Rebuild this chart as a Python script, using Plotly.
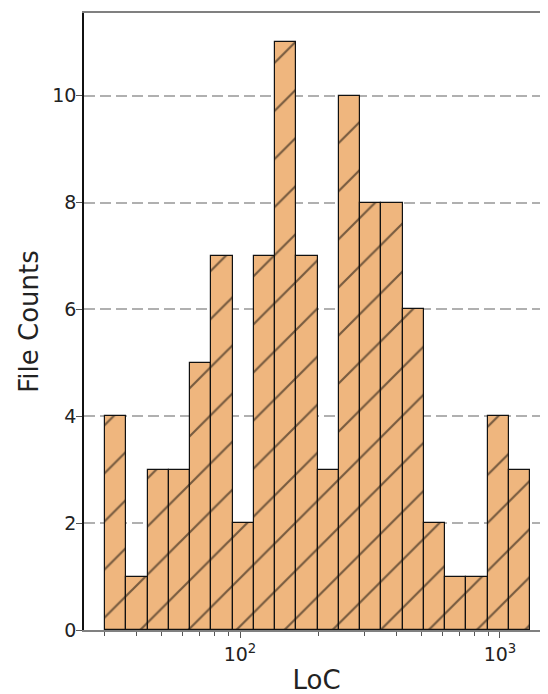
import numpy as np
import plotly.graph_objects as go

# Histogram counts per log-spaced bin
counts = [4, 1, 3, 3, 5, 7, 2, 7, 11, 7, 3, 10, 8, 8, 6, 2, 1, 1, 4, 3]
loc_min = 30.26   # left edge of first bin (LoC)
loc_max = 1305.0  # right edge of last bin (LoC)

y_ticks = [0, 2, 4, 6, 8, 10]
x_major_vals = [100, 1000]
x_major_text = ["10<sup>2</sup>", "10<sup>3</sup>"]
x_minor_vals = [30, 40, 50, 60, 70, 80, 90, 200, 300, 400, 500, 600, 700, 800, 900]

edges = np.logspace(np.log10(loc_min), np.log10(loc_max), len(counts) + 1)
le = np.log10(edges)
centers = (le[:-1] + le[1:]) / 2
widths = le[1:] - le[:-1]

fill = "#efb67e"
font = "DejaVu Sans"

fig = go.Figure(go.Bar(
    x=centers, y=counts, width=widths,
    marker=dict(color=fill,
                line=dict(color="#111111", width=1.2),
                pattern=dict(shape="/", fgcolor="#000000", bgcolor=fill,
                             size=34, solidity=0.065)),
    hoverinfo="skip",
))

fig.update_layout(
    width=548, height=694,
    margin=dict(l=76, r=7, t=5, b=72, autoexpand=False),
    plot_bgcolor="white", paper_bgcolor="white",
    showlegend=False, bargap=0,
    font=dict(family=font, color="#222222"),
)

fig.update_xaxes(
    automargin=False,
    range=[1.4, 3.1885],
    tickmode="array",
    tickvals=list(np.log10(x_major_vals)),
    ticktext=x_major_text,
    ticks="outside", ticklen=6, tickwidth=1.2, tickcolor="#555555",
    minor=dict(tickmode="array", tickvals=list(np.log10(x_minor_vals)),
               ticks="outside", ticklen=3.5, tickwidth=1, tickcolor="#555555",
               showgrid=False),
    tickfont=dict(size=19, family=font, color="#222222"),
    showgrid=False, zeroline=False,
    showline=True, linecolor="#808080", linewidth=2, mirror=True,
    title=dict(text="LoC", font=dict(size=26, family=font, color="#222222"),
               standoff=7),
    layer="above traces",
)

fig.update_yaxes(
    automargin=False,
    range=[0, 11.55],
    tickmode="array", tickvals=y_ticks,
    ticks="outside", ticklen=6, tickwidth=1.2, tickcolor="#555555",
    tickfont=dict(size=19, family=font, color="#222222"),
    ticklabelstandoff=-4,
    showgrid=True, gridcolor="#b0b0b0", gridwidth=2, griddash="11px,5px",
    zeroline=False,
    showline=True, linecolor="#111111", linewidth=1.5, mirror=False,
    title=dict(text="File Counts", font=dict(size=26, family=font, color="#222222"),
               standoff=6),
    layer="above traces",
)

fig.write_html("out.html")
